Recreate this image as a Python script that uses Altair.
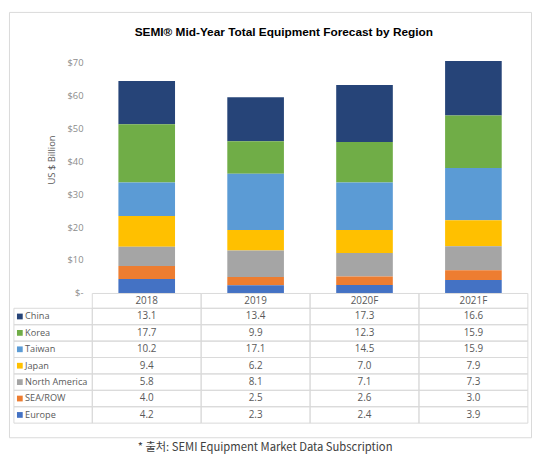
import altair as alt
import pandas as pd

# ---- data ----
years = ["2018", "2019", "2020F", "2021F"]
regions = ["China", "Korea", "Taiwan", "Japan", "North America", "SEA/ROW", "Europe"]
china = [13.1, 13.4, 17.3, 16.6]
korea = [17.7, 9.9, 12.3, 15.9]
taiwan = [10.2, 17.1, 14.5, 15.9]
japan = [9.4, 6.2, 7.0, 7.9]
north_america = [5.8, 8.1, 7.1, 7.3]
sea_row = [4.0, 2.5, 2.6, 3.0]
europe = [4.2, 2.3, 2.4, 3.9]
colors = ["#264478", "#70AD47", "#5B9BD5", "#FFC000", "#A5A5A5", "#ED7D31", "#4472C4"]
y_ticks = [0, 10, 20, 30, 40, 50, 60, 70]
title_text = "SEMI\u00ae Mid-Year Total Equipment Forecast by Region"
y_title = "US $ Billion"
footnote = "* 출처: SEMI Equipment Market Data Subscription"

series = [china, korea, taiwan, japan, north_america, sea_row, europe]
rows = []
for i, (reg, vals) in enumerate(zip(regions, series)):
    for yr, v in zip(years, vals):
        rows.append({"region": reg, "year": yr, "value": v, "stack": len(regions) - 1 - i})
df = pd.DataFrame(rows)
df_hdr = pd.DataFrame({"year": years, "row": ["header"] * len(years)})
df_lbl = pd.DataFrame({"region": regions, "col": ["label"] * len(regions)})

# ---- styles / layout ----
GRID = "#d9d9d9"
TXT = "#595959"
FONT = "Open Sans"
W, H = 529, 431

color_scale = alt.Scale(domain=regions, range=colors)
x_bar = alt.Scale(domain=years, range=[84.4, 525.8], paddingInner=0, paddingOuter=0)
x_tab = alt.Scale(domain=years, range=[84.4, 525.8], paddingInner=0, paddingOuter=0)
x_lbl = alt.Scale(domain=["label"], range=[5, 84.4], paddingInner=0, paddingOuter=0)
y_bar = alt.Scale(domain=[0, 70], range=[284.7, 51.4], nice=False, zero=True)
y_hdr = alt.Scale(domain=["header"], range=[285.3, 300.3], paddingInner=0, paddingOuter=0)
y_body = alt.Scale(domain=regions, range=[300.3, 416.7], paddingInner=0, paddingOuter=0)

bars = alt.Chart(df).mark_bar(width=alt.RelativeBandSize(0.52)).encode(
    x=alt.X("year:N", scale=x_bar, axis=None),
    y=alt.Y(
        "value:Q",
        stack="zero",
        scale=y_bar,
        axis=alt.Axis(
            values=y_ticks,
            labelExpr="datum.value == 0 ? '$-' : '$' + datum.value",
            ticks=False,
            tickSize=0,
            domain=False,
            grid=False,
            labelPadding=0,
            offset=-75,
            labelFont=FONT,
            labelFontSize=9.5,
            labelColor="#8c8c8c",
            title=y_title,
            titleX=-32,
            titleY=149.5,
            titleAngle=270,
            titleBaseline="middle",
            titleAlign="center",
            titleFont=FONT,
            titleFontSize=9.5,
            titleFontWeight="normal",
            titleColor=TXT,
        ),
    ),
    color=alt.Color("region:N", scale=color_scale, legend=None),
    order=alt.Order("stack:Q"),
)

header_cells = alt.Chart(df_hdr).mark_rect(fill="white", fillOpacity=0, stroke=GRID, strokeWidth=1).encode(
    x=alt.X("year:N", scale=x_tab, axis=None),
    y=alt.Y("row:N", scale=y_hdr, axis=None),
)
header_text = alt.Chart(df_hdr).mark_text(font=FONT, fontSize=10, color=TXT).encode(
    x=alt.X("year:N", scale=x_tab, axis=None),
    y=alt.Y("row:N", scale=y_hdr, axis=None),
    text="year:N",
)
header = alt.layer(header_cells, header_text)

body_cells = alt.Chart(df).mark_rect(fill="white", fillOpacity=0, stroke=GRID, strokeWidth=1).encode(
    x=alt.X("year:N", scale=x_tab, axis=None),
    y=alt.Y("region:N", scale=y_body, axis=None),
)
body_text = alt.Chart(df).mark_text(font=FONT, fontSize=10, color=TXT).encode(
    x=alt.X("year:N", scale=x_tab, axis=None),
    y=alt.Y("region:N", scale=y_body, axis=None),
    text=alt.Text("value:Q", format=".1f"),
)
body = alt.layer(body_cells, body_text)

lbl_cells = alt.Chart(df_lbl).mark_rect(fill="white", fillOpacity=0, stroke=GRID, strokeWidth=1).encode(
    x=alt.X("col:N", scale=x_lbl, axis=None),
    y=alt.Y("region:N", scale=y_body, axis=None),
)
swatches = alt.Chart(df_lbl).mark_square(size=34, opacity=1, xOffset=6).encode(
    x=alt.X("col:N", scale=x_lbl, axis=None, bandPosition=0),
    y=alt.Y("region:N", scale=y_body, axis=None),
    color=alt.Color("region:N", scale=color_scale, legend=None),
)
lbl_text = alt.Chart(df_lbl).mark_text(font=FONT, fontSize=9.3, color=TXT, align="left", dx=11.3).encode(
    x=alt.X("col:N", scale=x_lbl, axis=None, bandPosition=0),
    y=alt.Y("region:N", scale=y_body, axis=None),
    text="region:N",
)
labels = alt.layer(lbl_cells, swatches, lbl_text)

main = alt.layer(bars, header, body, labels).resolve_scale(
    x="independent", y="independent"
).properties(
    width=W,
    height=H,
    title=alt.TitleParams(
        text=title_text,
        offset=-32,
        baseline="middle",
        anchor="middle",
        dx=14,
        font="Liberation Sans",
        fontSize=12,
        fontWeight="bold",
        color="#000000",
    ),
)

chart = alt.vconcat(main).properties(
    padding=0,
    title=alt.TitleParams(
        text=footnote,
        orient="bottom",
        offset=4,
        baseline="top",
        anchor="middle",
        dx=-5,
        font="Noto Sans CJK KR",
        fontSize=11.4,
        fontWeight="normal",
        color="#404040",
    ),
).configure_view(stroke=GRID)

chart.save("out.html", embed_options={"renderer": "svg", "actions": False})
